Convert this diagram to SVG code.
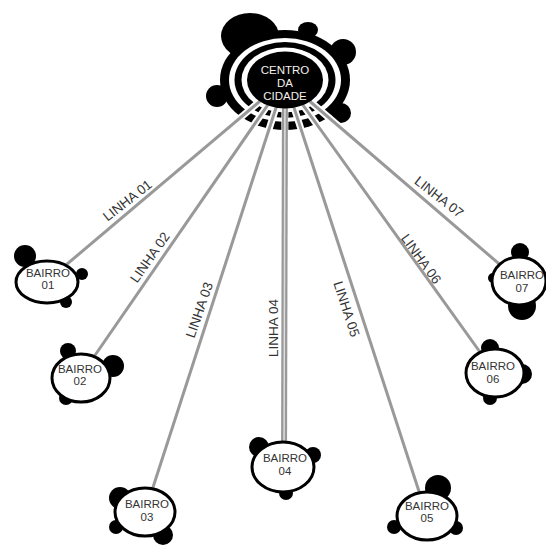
<svg xmlns="http://www.w3.org/2000/svg" width="546" height="545" viewBox="0 0 546 545">
<style>
.blob{fill:#000}
.casing{stroke:#fff;stroke-width:7;fill:none}
.line{stroke:#999;stroke-width:3;fill:none}
.node{fill:#fff;stroke:#000;stroke-width:3}
.nt{font-family:"Liberation Sans",Arial,sans-serif;font-size:11.5px;fill:#333;text-anchor:middle}
.ct{font-family:"Liberation Sans",Arial,sans-serif;font-size:11.5px;fill:#f4f0ea;text-anchor:middle}
.lbl{font-family:"Liberation Sans",Arial,sans-serif;font-size:13.5px;fill:#333;text-anchor:middle}
</style>
<rect width="546" height="545" fill="#fff"/>
<g id="centro-rings">
  <ellipse class="blob" cx="250" cy="36" rx="29" ry="23"/>
  <ellipse class="blob" cx="308" cy="30" rx="10" ry="8"/>
  <ellipse class="blob" cx="343" cy="52" rx="13" ry="13"/>
  <ellipse class="blob" cx="217" cy="96" rx="11" ry="11"/>
  <ellipse class="blob" cx="341" cy="113" rx="10" ry="10"/>
  <ellipse cx="285" cy="80" rx="65" ry="50" fill="#000"/>
  <ellipse cx="285" cy="80" rx="56" ry="42" fill="#fff"/>
  <ellipse cx="285" cy="80" rx="50.5" ry="38" fill="#000"/>
  <ellipse cx="285" cy="80" rx="43.5" ry="32.5" fill="#fff"/>
</g>
<g id="connectors">
  <g class="casing">
    <line x1="285" y1="80" x2="47" y2="281"/>
    <line x1="285" y1="80" x2="80" y2="377"/>
    <line x1="285" y1="80" x2="145" y2="512"/>
    <line x1="285" y1="80" x2="284" y2="467"/>
    <line x1="285" y1="80" x2="427" y2="516"/>
    <line x1="285" y1="80" x2="495" y2="373"/>
    <line x1="285" y1="80" x2="519" y2="281"/>
  </g>
  <g class="line">
    <line x1="285" y1="80" x2="47" y2="281"/>
    <line x1="285" y1="80" x2="80" y2="377"/>
    <line x1="285" y1="80" x2="145" y2="512"/>
    <line x1="285" y1="80" x2="284" y2="467" stroke-width="6"/>
    <line x1="285" y1="80" x2="427" y2="516"/>
    <line x1="285" y1="80" x2="495" y2="373"/>
    <line x1="285" y1="80" x2="519" y2="281"/>
  </g>
  <line x1="285" y1="80" x2="284" y2="467" stroke="#ddd" stroke-width="1.5"/>
  <g class="lbl">
    <text transform="translate(127.5,200.5) rotate(-38)" y="4.5">LINHA 01</text>
    <text transform="translate(150,257.5) rotate(-55)" y="4.5">LINHA 02</text>
    <text transform="translate(199.5,310) rotate(-71)" y="4.5">LINHA 03</text>
    <text transform="translate(273.5,328) rotate(-90)" y="4.5">LINHA 04</text>
    <text transform="translate(346.5,309) rotate(72)" y="4.5">LINHA 05</text>
    <text transform="translate(421,259) rotate(54)" y="4.5">LINHA 06</text>
    <text transform="translate(439,197) rotate(38)" y="4.5">LINHA 07</text>
  </g>
</g>
<g id="centro">
  <ellipse cx="285" cy="80" rx="38" ry="28.5" fill="#000"/>
  <text class="ct" x="285" y="74">CENTRO</text>
  <text class="ct" x="285" y="87">DA</text>
  <text class="ct" x="285" y="100">CIDADE</text>
</g>
<g id="bairro01">
  <circle class="blob" cx="25" cy="256" r="11"/>
  <circle class="blob" cx="82" cy="274" r="6"/>
  <circle class="blob" cx="66" cy="302" r="6"/>
  <ellipse class="node" cx="47" cy="282" rx="31" ry="21"/>
  <text class="nt" x="48" y="277">BAIRRO</text>
  <text class="nt" x="48" y="289">01</text>
</g>
<g id="bairro02">
  <circle class="blob" cx="68" cy="351" r="8"/>
  <circle class="blob" cx="113" cy="366" r="11"/>
  <circle class="blob" cx="66" cy="398" r="7"/>
  <ellipse class="node" cx="81" cy="378" rx="29" ry="24"/>
  <text class="nt" x="80" y="373">BAIRRO</text>
  <text class="nt" x="80" y="385">02</text>
</g>
<g id="bairro03">
  <circle class="blob" cx="120" cy="498" r="11"/>
  <circle class="blob" cx="116" cy="527" r="7"/>
  <circle class="blob" cx="163" cy="535" r="10"/>
  <ellipse class="node" cx="145" cy="512" rx="30" ry="24"/>
  <text class="nt" x="147" y="508">BAIRRO</text>
  <text class="nt" x="147" y="521">03</text>
</g>
<g id="bairro04">
  <circle class="blob" cx="259" cy="447" r="10"/>
  <circle class="blob" cx="313" cy="455" r="8"/>
  <circle class="blob" cx="286" cy="493" r="7"/>
  <ellipse class="node" cx="283" cy="467" rx="31" ry="25"/>
  <text class="nt" x="285" y="462">BAIRRO</text>
  <text class="nt" x="285" y="475">04</text>
</g>
<g id="bairro05">
  <circle class="blob" cx="438" cy="488" r="13"/>
  <circle class="blob" cx="394" cy="527" r="7"/>
  <circle class="blob" cx="456" cy="528" r="7"/>
  <ellipse class="node" cx="427" cy="516" rx="30" ry="24"/>
  <text class="nt" x="427" y="510">BAIRRO</text>
  <text class="nt" x="427" y="522">05</text>
</g>
<g id="bairro06">
  <circle class="blob" cx="490" cy="348" r="9"/>
  <circle class="blob" cx="522" cy="374" r="10"/>
  <circle class="blob" cx="490" cy="398" r="7"/>
  <ellipse class="node" cx="495" cy="373" rx="29" ry="24"/>
  <text class="nt" x="493" y="370">BAIRRO</text>
  <text class="nt" x="493" y="383">06</text>
</g>
<g id="bairro07">
  <circle class="blob" cx="520" cy="252" r="9"/>
  <circle class="blob" cx="493" cy="278" r="5"/>
  <circle class="blob" cx="522" cy="306" r="14"/>
  <ellipse class="node" cx="519" cy="281" rx="27" ry="24"/>
  <text class="nt" x="522" y="279">BAIRRO</text>
  <text class="nt" x="522" y="292">07</text>
</g>
</svg>
